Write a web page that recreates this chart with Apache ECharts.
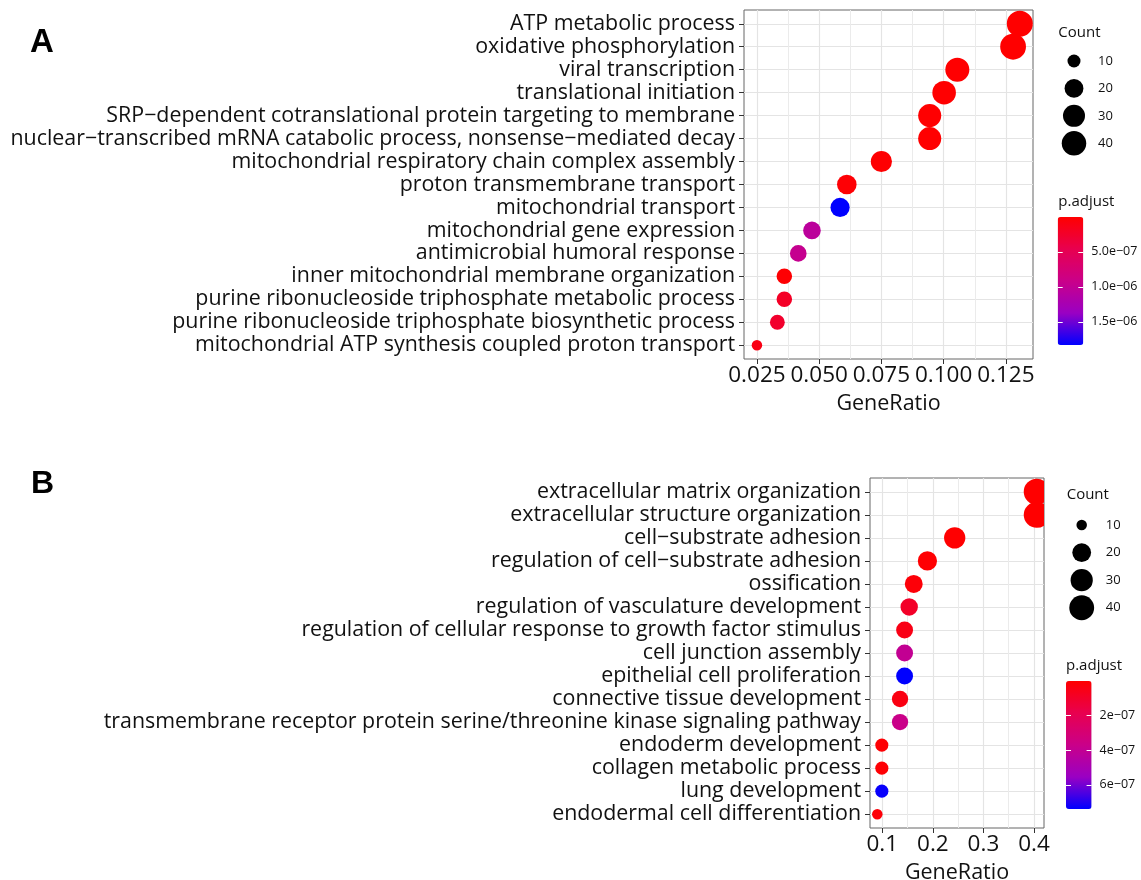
<!DOCTYPE html>
<html>
<head>
<meta charset="utf-8">
<script src="https://cdn.jsdelivr.net/npm/echarts@6/dist/echarts.min.js"></script>
<style>html,body{margin:0;padding:0;background:#fff}#c{width:1141px;height:880px}</style>
</head>
<body>
<div id="c"></div>
<script>
// ---------- Panel A data ----------
const catsA = ['ATP metabolic process','oxidative phosphorylation','viral transcription','translational initiation','SRP−dependent cotranslational protein targeting to membrane','nuclear−transcribed mRNA catabolic process, nonsense−mediated decay','mitochondrial respiratory chain complex assembly','proton transmembrane transport','mitochondrial transport','mitochondrial gene expression','antimicrobial humoral response','inner mitochondrial membrane organization','purine ribonucleoside triphosphate metabolic process','purine ribonucleoside triphosphate biosynthetic process','mitochondrial ATP synthesis coupled proton transport'];
const ratioA = [0.1306,0.1279,0.1055,0.1002,0.0944,0.0944,0.075,0.0611,0.0584,0.0471,0.0416,0.036,0.036,0.0332,0.025];
const countA = [47,46,38,36,34,34,27,22,21,17,15,13,13,12,9];
const pA = [2e-9,3e-9,5e-9,5e-9,1e-8,1e-8,1.5e-8,3e-8,1.83e-6,1.06e-6,9.6e-7,2e-8,2.2e-7,2.6e-7,1.2e-7];
const xTicksA = [0.025,0.05,0.075,0.1,0.125];
const xMinorA = [0.0375,0.0625,0.0875,0.1125];
const pTicksA = [5e-7,1e-6,1.5e-6];

// ---------- Panel B data ----------
const catsB = ['extracellular matrix organization','extracellular structure organization','cell−substrate adhesion','regulation of cell−substrate adhesion','ossification','regulation of vasculature development','regulation of cellular response to growth factor stimulus','cell junction assembly','epithelial cell proliferation','connective tissue development','transmembrane receptor protein serine/threonine kinase signaling pathway','endoderm development','collagen metabolic process','lung development','endodermal cell differentiation'];
const ratioB = [0.4054,0.4054,0.2432,0.1892,0.1622,0.1532,0.1441,0.1441,0.1441,0.1351,0.1351,0.0991,0.0991,0.0991,0.0901];
const countB = [45,45,27,21,18,17,16,16,16,15,15,11,11,11,10];
const pB = [1e-9,1e-9,3e-9,5e-9,2e-8,9.5e-8,5e-8,4e-7,7.4e-7,4e-8,3.7e-7,1e-8,1e-8,7.3e-7,2e-8];
const xTicksB = [0.1,0.2,0.3,0.4];
const xMinorB = [0.15,0.25,0.35];
const pTicksB = [2e-7,4e-7,6e-7];

const legendCounts = [10,20,30,40];

// ---------- helpers ----------
const FONT = '"Open Sans", "Noto Sans", sans-serif';
const ramp = ['#FF0000','#E8004F','#CA0089','#9A00C3','#0000FF'];
function makeSize(counts){
  const lo = Math.min(...counts), hi = Math.max(...counts);
  return c => 10.5 + 15.5*Math.sqrt(Math.max(0,(c-lo)/(hi-lo)));
}
const sizeA = makeSize(countA), sizeB = makeSize(countB);
function sci(v, d){
  const s = v.toExponential(d); const parts = s.split('e'); const n = parseInt(parts[1],10);
  return parts[0] + 'e' + (n<0?'−':'+') + String(Math.abs(n)).padStart(2,'0');
}
function rows(ratio, count, p){ return ratio.map((r,i)=>[r,i,count[i],p[i]]); }
function idx(cats){ return cats.map((_,i)=>i); }

const pMinA = Math.min(...pA), pMaxA = Math.max(...pA);
const pMinB = Math.min(...pB), pMaxB = Math.max(...pB);

const GRID_LINE = '#E4E4E4', GRID_MINOR = '#EBEBEB';

function mainX(gi, min, max, ticks, dec){
  return {type:'value', gridIndex:gi, min, max, position:'bottom',
    axisLine:{show:false, onZero:false},
    axisTick:{show:true, length:5, customValues:ticks, lineStyle:{color:'#333',width:1}},
    axisLabel:{customValues:ticks, formatter:v=>v.toFixed(dec), color:'#111', fontSize:22.5, fontFamily:FONT, margin:5},
    splitLine:{show:true, lineStyle:{color:GRID_LINE, width:1.2}},
    name:'GeneRatio', nameLocation:'middle', nameGap:34,
    nameTextStyle:{color:'#111', fontSize:21.5, fontFamily:FONT}};
}
function minorX(gi, min, max, ticks){
  return {type:'value', gridIndex:gi, min, max, position:'top',
    axisLine:{show:false, onZero:false}, axisTick:{show:false, customValues:ticks},
    axisLabel:{show:false, customValues:ticks},
    splitLine:{show:true, lineStyle:{color:GRID_MINOR, width:1}}};
}
function catY(gi, cats){
  const n = cats.length;
  return {type:'value', gridIndex:gi, inverse:true, min:-0.6, max:n-1+0.6,
    axisLine:{show:false, onZero:false},
    axisTick:{show:true, length:5, customValues:idx(cats), lineStyle:{color:'#333',width:1}},
    axisLabel:{customValues:idx(cats), formatter:v=>cats[Math.round(v)], color:'#111', fontSize:21.4, fontFamily:FONT, margin:9},
    splitLine:{show:true, lineStyle:{color:GRID_LINE, width:1.2}}};
}
function legendY(gi){
  return {type:'category', gridIndex:gi, data:legendCounts.map(String), inverse:true, position:'right',
    axisLine:{show:false, onZero:false}, axisTick:{show:false}, splitLine:{show:false},
    axisLabel:{color:'#111', fontSize:13, fontFamily:FONT, margin:10}};
}
function hiddenCatX(gi){
  return {type:'category', gridIndex:gi, data:[''], show:false, axisLine:{onZero:false}};
}
function hiddenValX(gi){
  return {type:'value', gridIndex:gi, min:0, max:1, show:false, axisLine:{onZero:false}};
}
function barY(gi, min, max, ticks, dec, pos){
  const right = pos==='right';
  return {type:'value', gridIndex:gi, min, max, inverse:true, position:pos, z:10,
    axisLine:{show:false, onZero:false}, splitLine:{show:false},
    axisTick:{show:true, inside:true, length:5, customValues:ticks, lineStyle:{color:'#fff', width:1}},
    axisLabel:{show:right, customValues:ticks, inside:false, formatter:v=>sci(v,dec), color:'#111', fontSize:12.5, fontFamily:FONT, margin:8}};
}
function pointSeries(xi, yi, data, sizeFn){
  return {type:'custom', xAxisIndex:xi, yAxisIndex:yi, clip:true, data,
    renderItem:(params, api)=>{
      const c = api.coord([api.value(0), api.value(1)]);
      return {type:'circle', shape:{cx:c[0], cy:c[1], r:sizeFn(api.value(2))/2},
        style:{fill:api.visual('color')}};
    }};
}
function legendSeries(xi, yi, sizeFn){
  return {type:'scatter', xAxisIndex:xi, yAxisIndex:yi, silent:true,
    data:legendCounts.map(c=>['', String(c), c]),
    symbolSize:(v)=>sizeFn(v[2]), itemStyle:{color:'#000', opacity:1}};
}
function g(o){ return Object.assign({outerBoundsMode:'none', containLabel:false}, o); }

const chart = echarts.init(document.getElementById('c'), null, {renderer:'canvas'});
chart.setOption({
  animation:false,
  backgroundColor:'#fff',
  grid:[
    g({left:744, top:10, width:289, height:349, show:true, borderColor:'#666', borderWidth:1, backgroundColor:'transparent'}),
    g({left:870, top:478, width:174, height:350, show:true, borderColor:'#666', borderWidth:1, backgroundColor:'transparent'}),
    g({left:1060, top:47.3, width:28, height:109.7}),
    g({left:1067.7, top:511.2, width:28, height:110.3}),
    g({left:1057.7, top:217, width:25.6, height:128}),
    g({left:1066, top:681, width:25.6, height:128})
  ],
  xAxis:[
    mainX(0, 0.0198, 0.1359, xTicksA, 3),
    minorX(0, 0.0198, 0.1359, xMinorA),
    mainX(1, 0.0757, 0.4198, xTicksB, 1),
    minorX(1, 0.0757, 0.4198, xMinorB),
    hiddenCatX(2), hiddenCatX(3), hiddenValX(4), hiddenValX(5)
  ],
  yAxis:[
    catY(0, catsA), catY(1, catsB),
    legendY(2), legendY(3),
    barY(4, pMinA, pMaxA, pTicksA, 1, 'right'), barY(4, pMinA, pMaxA, pTicksA, 1, 'left'),
    barY(5, pMinB, pMaxB, pTicksB, 0, 'right'), barY(5, pMinB, pMaxB, pTicksB, 0, 'left')
  ],
  visualMap:[
    {type:'continuous', seriesIndex:0, dimension:3, min:pMinA, max:pMaxA, inRange:{color:ramp},
     orient:'vertical', inverse:true, left:1057.7, top:217, itemWidth:25.6, itemHeight:128,
     calculable:false, padding:0, hoverLink:false, show:true, z:2},
    {type:'continuous', seriesIndex:1, dimension:3, min:pMinB, max:pMaxB, inRange:{color:ramp},
     orient:'vertical', inverse:true, left:1066, top:681, itemWidth:25.6, itemHeight:128,
     calculable:false, padding:0, hoverLink:false, show:true, z:2}
  ],
  graphic:[
    {type:'text', left:30, top:26, style:{text:'A', font:'bold 33px "Liberation Sans", Arial, sans-serif', fill:'#000'}},
    {type:'text', left:31, top:468, style:{text:'B', font:'bold 32px "Liberation Sans", Arial, sans-serif', fill:'#000'}},
    {type:'text', x:1058.3, y:32.7, style:{text:'Count', font:'15px "Open Sans", sans-serif', fill:'#111', verticalAlign:'middle'}},
    {type:'text', x:1058.3, y:202, style:{text:'p.adjust', font:'15px "Open Sans", sans-serif', fill:'#111', verticalAlign:'middle'}},
    {type:'text', x:1066.7, y:495, style:{text:'Count', font:'15px "Open Sans", sans-serif', fill:'#111', verticalAlign:'middle'}},
    {type:'text', x:1066, y:666, style:{text:'p.adjust', font:'15px "Open Sans", sans-serif', fill:'#111', verticalAlign:'middle'}}
  ],
  series:[
    pointSeries(0, 0, rows(ratioA, countA, pA), sizeA),
    pointSeries(2, 1, rows(ratioB, countB, pB), sizeB),
    legendSeries(4, 2, sizeA),
    legendSeries(5, 3, sizeB)
  ]
});
</script>
</body>
</html>
